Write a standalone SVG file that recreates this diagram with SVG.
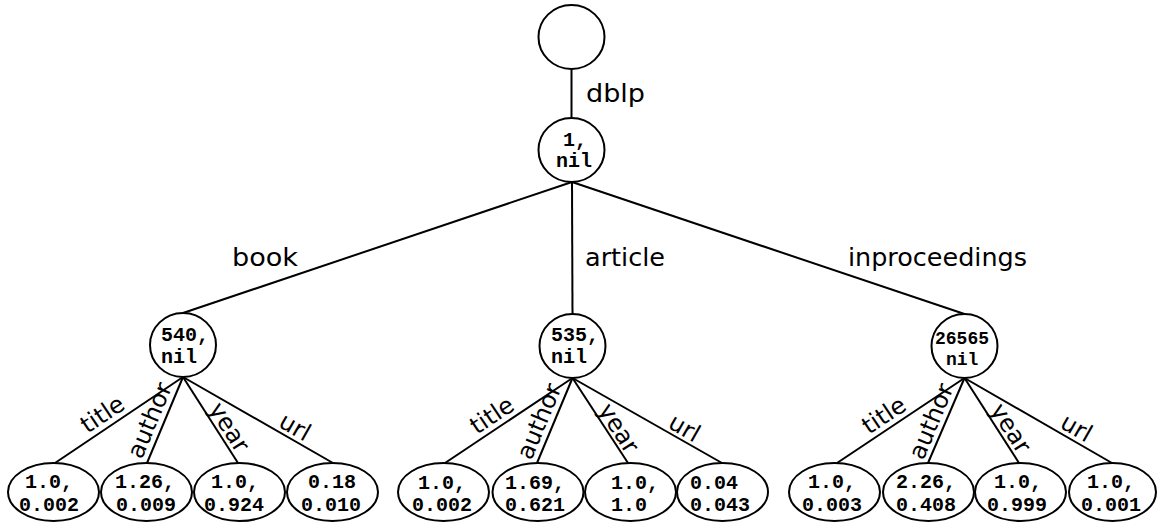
<svg xmlns="http://www.w3.org/2000/svg" width="1157" height="525" viewBox="0 0 1157 525">
<style>
.n{fill:#fff;stroke:#000;stroke-width:2}
.e{stroke:#000;stroke-width:2;fill:none}
.m{font-family:"Liberation Mono","Courier New",monospace;font-weight:bold;font-size:20px;fill:#000}
.s{font-family:"Liberation Mono","Courier New",monospace;font-weight:bold;font-size:18px;fill:#000}
.l{font-family:"DejaVu Sans","Liberation Sans",sans-serif;font-size:24px;fill:#000}
.el{font-family:"DejaVu Sans","Liberation Sans",sans-serif;font-size:24px;fill:#000;text-anchor:middle}
</style>
<rect width="1157" height="525" fill="#fff"/>
<g id="connectors">
<line class="e" x1="571.5" y1="69" x2="571.5" y2="118"/>
<line class="e" x1="572" y1="182" x2="183" y2="313"/>
<line class="e" x1="572" y1="182" x2="572.5" y2="314"/>
<line class="e" x1="572" y1="182" x2="964.5" y2="314"/>
<line class="e" x1="183" y1="377" x2="55" y2="463"/>
<line class="e" x1="183" y1="377" x2="147" y2="463"/>
<line class="e" x1="183" y1="377" x2="238" y2="463"/>
<line class="e" x1="183" y1="377" x2="333" y2="463"/>
<line class="e" x1="572.5" y1="378" x2="445" y2="463"/>
<line class="e" x1="572.5" y1="378" x2="537" y2="463"/>
<line class="e" x1="572.5" y1="378" x2="628" y2="463"/>
<line class="e" x1="572.5" y1="378" x2="722" y2="463"/>
<line class="e" x1="964.5" y1="378" x2="837" y2="463"/>
<line class="e" x1="964.5" y1="378" x2="928" y2="463"/>
<line class="e" x1="964.5" y1="378" x2="1019" y2="463"/>
<line class="e" x1="964.5" y1="378" x2="1112" y2="463"/>
<text class="l" x="586" y="102" textLength="59" lengthAdjust="spacingAndGlyphs">dblp</text>
<text class="l" x="232" y="266" textLength="66" lengthAdjust="spacingAndGlyphs">book</text>
<text class="l" x="585" y="266" textLength="80" lengthAdjust="spacingAndGlyphs">article</text>
<text class="l" x="848" y="266" textLength="179" lengthAdjust="spacingAndGlyphs">inproceedings</text>
<text class="el" transform="translate(107,421) rotate(-33.9)">title</text>
<text class="el" transform="translate(157,423.5) rotate(-67.3)">author</text>
<text class="el" transform="translate(222.5,431.5) rotate(57.4)">year</text>
<text class="el" transform="translate(291,434) rotate(29.8)">url</text>
<text class="el" transform="translate(496.5,422) rotate(-33.9)">title</text>
<text class="el" transform="translate(546.5,424.5) rotate(-67.3)">author</text>
<text class="el" transform="translate(612,432.5) rotate(57.4)">year</text>
<text class="el" transform="translate(680.5,435) rotate(29.8)">url</text>
<text class="el" transform="translate(888.5,422) rotate(-33.9)">title</text>
<text class="el" transform="translate(938.5,424.5) rotate(-67.3)">author</text>
<text class="el" transform="translate(1004,432.5) rotate(57.4)">year</text>
<text class="el" transform="translate(1072.5,435) rotate(29.8)">url</text>
</g>
<g id="root"><ellipse class="n" cx="571.5" cy="37" rx="33" ry="32"/></g>
<g id="dblp"><ellipse class="n" cx="571.5" cy="150" rx="33" ry="32"/><text class="m" x="563" y="146">1,</text><text class="m" x="556" y="167">nil</text></g>
<g id="book"><ellipse class="n" cx="183" cy="345" rx="33" ry="32"/><text class="m" x="161" y="341">540,</text><text class="m" x="161" y="363">nil</text></g>
<g id="article"><ellipse class="n" cx="572.5" cy="346" rx="33" ry="32"/><text class="m" x="551" y="341">535,</text><text class="m" x="551" y="363">nil</text></g>
<g id="inproceedings"><ellipse class="n" cx="964.5" cy="346" rx="33" ry="32"/><text class="s" x="935" y="344">26565</text><text class="s" x="946" y="365">nil</text></g>
<g id="book-title"><ellipse class="n" cx="53.5" cy="492" rx="45.5" ry="29"/><text class="m" x="25" y="488">1.0,</text><text class="m" x="19" y="511">0.002</text></g>
<g id="book-author"><ellipse class="n" cx="146.5" cy="492" rx="45.5" ry="29"/><text class="m" x="115" y="488">1.26,</text><text class="m" x="116" y="511">0.009</text></g>
<g id="book-year"><ellipse class="n" cx="239.5" cy="492" rx="45.5" ry="29"/><text class="m" x="211" y="488">1.0,</text><text class="m" x="204" y="511">0.924</text></g>
<g id="book-url"><ellipse class="n" cx="332.5" cy="492" rx="45.5" ry="29"/><text class="m" x="308" y="488">0.18</text><text class="m" x="301" y="511">0.010</text></g>
<g id="article-title"><ellipse class="n" cx="443.5" cy="492" rx="45.5" ry="29"/><text class="m" x="418" y="489">1.0,</text><text class="m" x="412" y="511">0.002</text></g>
<g id="article-author"><ellipse class="n" cx="538" cy="492" rx="45.5" ry="29"/><text class="m" x="505" y="489">1.69,</text><text class="m" x="505" y="511">0.621</text></g>
<g id="article-year"><ellipse class="n" cx="630.5" cy="492" rx="45.5" ry="29"/><text class="m" x="611" y="489">1.0,</text><text class="m" x="611" y="511">1.0</text></g>
<g id="article-url"><ellipse class="n" cx="722.5" cy="492" rx="45.5" ry="29"/><text class="m" x="690" y="489">0.04</text><text class="m" x="690" y="511">0.043</text></g>
<g id="inproc-title"><ellipse class="n" cx="834.5" cy="492" rx="45.5" ry="29"/><text class="m" x="808" y="488">1.0,</text><text class="m" x="802" y="511">0.003</text></g>
<g id="inproc-author"><ellipse class="n" cx="928.5" cy="492" rx="45.5" ry="29"/><text class="m" x="896" y="488">2.26,</text><text class="m" x="896" y="511">0.408</text></g>
<g id="inproc-year"><ellipse class="n" cx="1020.5" cy="492" rx="45.5" ry="29"/><text class="m" x="994" y="488">1.0,</text><text class="m" x="987" y="511">0.999</text></g>
<g id="inproc-url"><ellipse class="n" cx="1112.5" cy="492" rx="43.5" ry="29"/><text class="m" x="1087" y="488">1.0,</text><text class="m" x="1081" y="511">0.001</text></g>
</svg>
